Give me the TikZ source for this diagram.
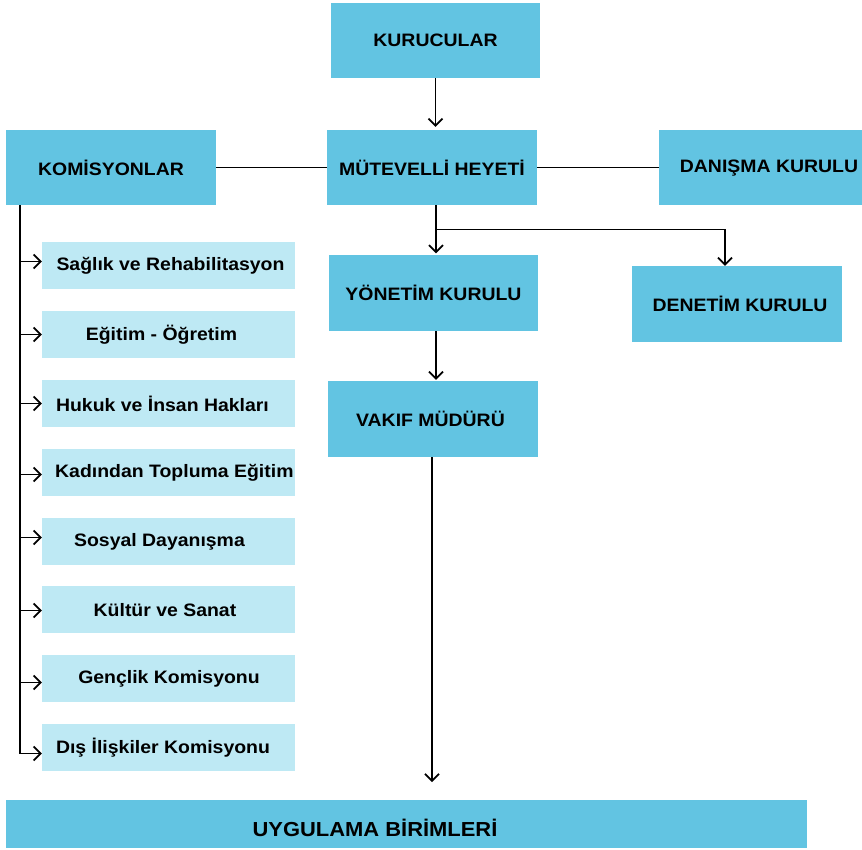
\documentclass[tikz,border=0pt]{standalone}
\usepackage{fontspec}
\setmainfont{Liberation Sans}[FakeStretch=1.08]
\usetikzlibrary{arrows.meta,calc}
\definecolor{darkbox}{RGB}{98,196,226}
\definecolor{lightbox}{RGB}{190,233,244}
\begin{document}
\begin{tikzpicture}[x=1pt,y=-1pt,
  txt/.style={font=\fontsize{18}{20}\selectfont\bfseries, text=black, inner sep=0pt},
  bigbox/.style={fill=darkbox, draw=none, inner sep=0pt, minimum width=210pt, minimum height=75pt, font=\fontsize{18}{20}\selectfont\bfseries},
  smallbox/.style={fill=lightbox, draw=none, inner sep=0pt, minimum width=253pt, minimum height=47pt},
  conn/.style={draw=black, line width=1.7pt},
  arr/.style={conn, -{Straight Barb[length=7pt,width=14pt,line width=1.7pt]}}]
\useasboundingbox (0,0) rectangle (862,850);
\fill[white] (0,0) rectangle (862,850);

% main boxes
\node[bigbox, minimum width=209pt] (kur) at (435.5,40.5) {KURUCULAR};
\node[bigbox] (mut) at (432,167.5) {MÜTEVELLİ HEYETİ};
\node[bigbox] (kom) at (111,167.5) {KOMİSYONLAR};
\node[bigbox, minimum width=203pt] (dan) at (760.5,167.5) {};
\node[txt] (dant) at (769,168) {DANIŞMA KURULU};
\node[bigbox, minimum width=209pt, minimum height=76pt] (yon) at (433.5,293) {YÖNETİM KURULU};
\node[bigbox, minimum height=76pt] (den) at (737,304) {};
\node[txt] (dent) at (740,304) {DENETİM KURULU};
\node[bigbox, minimum height=76pt] (vak) at (433,419) {};
\node[txt] (vakt) at (430.5,419) {VAKIF MÜDÜRÜ};
\node[bigbox, minimum width=801pt, minimum height=48pt] (uyg) at (406.5,824) {};
\node[txt, font=\fontsize{20.3}{22}\selectfont\bfseries] (uygt) at (375,828) {UYGULAMA BİRİMLERİ};

% commission boxes
\node[smallbox] (c1) at (168.5,265.5) {};
\node[smallbox] (c2) at (168.5,334.5) {};
\node[smallbox] (c3) at (168.5,403.5) {};
\node[smallbox] (c4) at (168.5,472.5) {};
\node[smallbox] (c5) at (168.5,541.5) {};
\node[smallbox] (c6) at (168.5,609.5) {};
\node[smallbox] (c7) at (168.5,678.5) {};
\node[smallbox] (c8) at (168.5,747.5) {};
\node[txt] (t1) at (170.5,266) {Sağlık ve Rehabilitasyon};
\node[txt] (t2) at (161.5,335) {Eğitim - Öğretim};
\node[txt] (t3) at (162.5,404) {Hukuk ve İnsan Hakları};
\node[txt, anchor=west] (t4) at (55,473) {Kadından Topluma Eğitim};
\node[txt] (t5) at (159.5,542) {Sosyal Dayanışma};
\node[txt] (t6) at (165,610) {Kültür ve Sanat};
\node[txt] (t7) at (169,679) {Gençlik Komisyonu};
\node[txt] (t8) at (163,748) {Dış İlişkiler Komisyonu};

% connectors
\draw[arr, shorten >=3pt] (kur.south) -- (kur.south |- mut.north);
\draw[conn] (kom.east) -- (mut.west);
\draw[conn] (mut.east) -- (dan.west);
\coordinate (br) at (436,229.5);
\draw[conn] (br |- mut.south) -- (br);
\draw[arr, shorten >=1.5pt] (br) -- (br |- yon.north);
\draw[arr] (br) -| ([xshift=-12pt]den.north);
\draw[arr, shorten >=1pt] ([xshift=2.5pt]yon.south) -- ([xshift=2.5pt]yon.south |- vak.north);
\coordinate (vend) at (432,782);
\draw[arr] (vend |- vak.south) -- (vend);

% commission spine
\coordinate (sp) at (20,205);
\draw[conn] (sp |- kom.south) -- ([yshift=-6pt]sp |- c8.west);
\draw[arr] ([yshift=-6pt]sp |- c8.west) -- ([yshift=-6pt]c8.west);
\draw[arr] ([yshift=4pt]sp |- c1.west) -- ([yshift=4pt]c1.west);
\draw[arr] (sp |- c2.west) -- (c2.west);
\draw[arr] (sp |- c3.west) -- (c3.west);
\draw[arr] ([yshift=-2pt]sp |- c4.west) -- ([yshift=-2pt]c4.west);
\draw[arr] ([yshift=4pt]sp |- c5.west) -- ([yshift=4pt]c5.west);
\draw[arr] ([yshift=-1pt]sp |- c6.west) -- ([yshift=-1pt]c6.west);
\draw[arr] ([yshift=-4pt]sp |- c7.west) -- ([yshift=-4pt]c7.west);
\end{tikzpicture}
\end{document}
